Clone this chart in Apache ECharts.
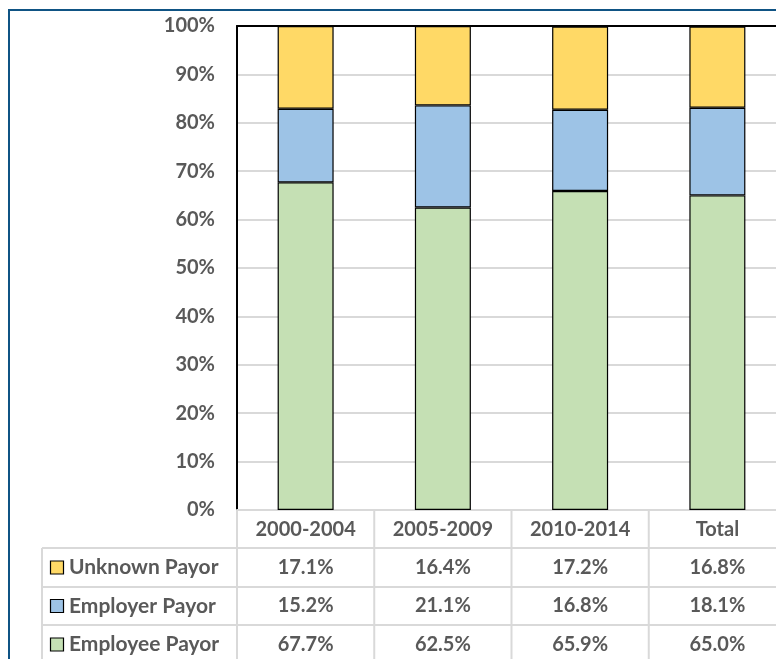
<!DOCTYPE html>
<html>
<head>
<meta charset="utf-8">
<script src="https://cdn.jsdelivr.net/npm/echarts@6/dist/echarts.min.js"></script>
<style>
    html, body { margin: 0; padding: 0; background: #fff; }
    #main { width: 776px; height: 659px; }
</style>
</head>
<body>
<div id="main"></div>
<script>
"use strict";
var categories = ["2000-2004", "2005-2009", "2010-2014", "Total"];
var employeePayor = [67.7, 62.5, 65.9, 65.0];
var employerPayor = [15.2, 21.1, 16.8, 18.1];
var unknownPayor = [17.1, 16.4, 17.2, 16.8];
var yTicks = [0, 10, 20, 30, 40, 50, 60, 70, 80, 90, 100];

var seriesNames = ["Unknown Payor", "Employer Payor", "Employee Payor"];
var seriesColors = ["#FFD966", "#9DC3E6", "#C5E0B4"];
var seriesValues = [unknownPayor, employerPayor, employeePayor];

var textColor = "#595959";
var fontFamily = "Lato, 'Open Sans', sans-serif";
var tableLine = "#d9d9d9";

var chart = echarts.init(document.getElementById("main"), null, {renderer: "canvas"});

function barSeries(idx) {
    return {
        name: seriesNames[idx],
        type: "bar",
        stack: "total",
        barWidth: 56,
        data: seriesValues[idx],
        itemStyle: {
            color: seriesColors[idx],
            borderColor: "#000",
            borderWidth: 1.2
        },
        animation: false
    };
}

var options = {
    animation: false,
    grid: {
        left: 237,
        top: 26,
        width: 549,
        height: 484,
        outerBoundsMode: "none",
        containLabel: false
    },
    xAxis: [{
        type: "category",
        data: categories,
        position: "bottom",
        axisLine: {show: true, lineStyle: {color: tableLine, width: 2}},
        axisTick: {show: false},
        axisLabel: {show: false}
    }, {
        type: "category",
        data: categories,
        position: "top",
        axisLine: {show: true, lineStyle: {color: "#000", width: 2}},
        axisTick: {show: false},
        axisLabel: {show: false}
    }],
    yAxis: {
        type: "value",
        min: yTicks[0],
        max: yTicks[yTicks.length - 1],
        interval: 10,
        axisLine: {show: true, lineStyle: {color: "#000", width: 2}},
        axisTick: {show: false},
        splitLine: {show: true, lineStyle: {color: "#d9d9d9", width: 2}},
        axisLabel: {
            formatter: "{value}%",
            color: textColor,
            fontFamily: fontFamily,
            fontWeight: "bold",
            fontSize: 20,
            margin: 22
        }
    },
    series: [barSeries(2), barSeries(1), barSeries(0)]
};
chart.setOption(options);

// data table under the plot, placed from the category axis
function buildTable() {
    var g = [];
    var rowTop = 510;
    var rowH = [38, 39, 38, 39];
    var rowY = [rowTop];
    rowH.forEach(function (h, i) { rowY.push(rowY[i] + h); });

    var centers = categories.map(function (c) {
        return chart.convertToPixel({xAxisIndex: 0}, c);
    });
    var half = (centers[1] - centers[0]) / 2;
    var colEdges = [centers[0] - half];
    centers.forEach(function (c) { colEdges.push(c + half); });
    var tableLeft = 42;

    // vertical lines
    colEdges.forEach(function (x) {
        g.push({type: "line", shape: {x1: x, y1: rowY[0], x2: x, y2: 700},
            style: {stroke: tableLine, lineWidth: 2}, z: 1});
    });
    g.push({type: "line", shape: {x1: tableLeft, y1: rowY[1], x2: tableLeft, y2: 700},
        style: {stroke: tableLine, lineWidth: 2}, z: 1});
    // horizontal lines
    for (var r = 1; r < rowY.length; r++) {
        g.push({type: "line", shape: {x1: tableLeft, y1: rowY[r], x2: 800, y2: rowY[r]},
            style: {stroke: tableLine, lineWidth: 2}, z: 1});
    }

    var textStyle = function (txt, x, y, align) {
        return {
            type: "text", x: x, y: y, z: 5,
            style: {
                text: txt, fill: textColor, font: "bold 20px " + fontFamily,
                align: align, verticalAlign: "middle"
            }
        };
    };
    // header row
    centers.forEach(function (cx, i) {
        g.push(textStyle(categories[i], cx, (rowY[0] + rowY[1]) / 2 + 1, "center"));
    });
    // series rows
    seriesNames.forEach(function (name, s) {
        var cy = (rowY[s + 1] + rowY[s + 2]) / 2;
        g.push({type: "rect", shape: {x: 50.5, y: cy - 6.5, width: 13, height: 13},
            style: {fill: seriesColors[s], stroke: "#000", lineWidth: 1.2}, z: 5});
        var label = textStyle(name, 69, cy, "left");
        label.style.font = "bold 21px " + fontFamily;
        g.push(label);
        seriesValues[s].forEach(function (v, i) {
            g.push(textStyle(v.toFixed(1) + "%", centers[i], cy, "center"));
        });
    });
    // outer frame
    g.push({type: "rect", shape: {x: 9, y: 10, width: 900, height: 800},
        style: {fill: null, stroke: "#0f5384", lineWidth: 2}, z: 10});

    chart.setOption({graphic: g});
}
buildTable();
</script>
</body>
</html>
